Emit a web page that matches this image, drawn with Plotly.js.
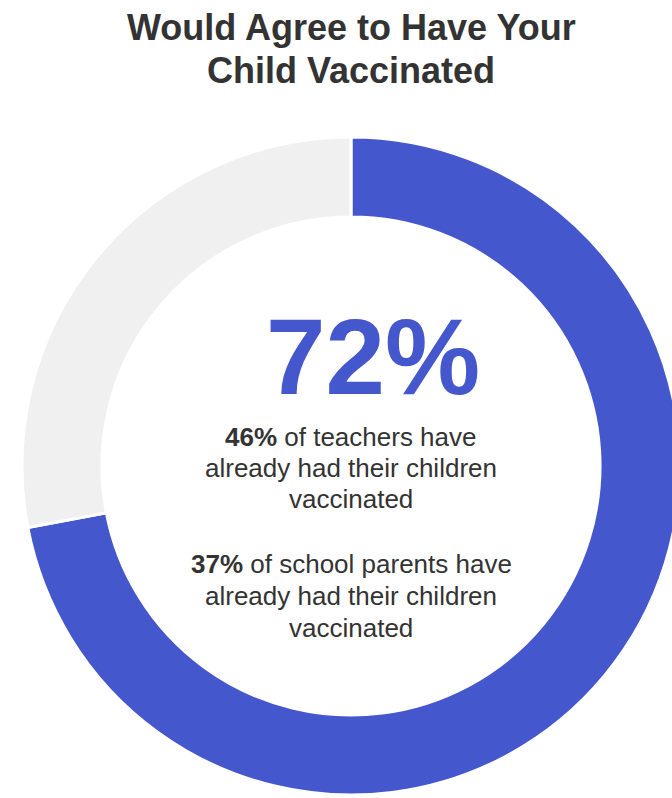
<!DOCTYPE html>
<html>
<head>
<meta charset="utf-8">
<script src="https://cdn.plot.ly/plotly-3.0.1.min.js"></script>
<style>
html,body{margin:0;padding:0;overflow:hidden;background:#fff;}
#chart{width:690px;height:798px;}
</style>
</head>
<body>
<div id="chart"></div>
<script>
const categories = ["Would agree", "Would not agree"];
const values = [72, 28];
const sliceColors = ["#4557CC", "#F0F0F0"];
const titleLines = ["Would Agree to Have Your", "Child Vaccinated"];
const bigNumber = "72%";
const noteLines = [
  "<b>46%</b> of teachers have", "already had their children", "vaccinated",
  "<b>37%</b> of school parents have", "already had their children", "vaccinated"
];

const W = 690, H = 798, ML = 21, MR = 9, MT = 137, MB = 3;
const pw = W - ML - MR, ph = H - MT - MB;
function px(x){ return (x - ML) / pw; }
function py(y){ return (H - MB - y) / ph; }

const data = [{
  type: "pie",
  labels: categories,
  values: values,
  hole: 0.757,
  sort: false,
  direction: "clockwise",
  rotation: 0,
  textinfo: "none",
  hoverinfo: "none",
  marker: {colors: sliceColors, line: {color: "#FFFFFF", width: 3}},
  showlegend: false
}];

const font = "Liberation Sans, Arial, sans-serif";
const annotations = [];
const titleY = [27, 71];
titleLines.forEach((t, i) => annotations.push({
  text: "<b>" + t + "</b>", x: px(351), y: py(titleY[i]), xref: "paper", yref: "paper",
  xanchor: "center", yanchor: "middle", showarrow: false,
  font: {family: font, size: 36, color: "#333333"}
}));
annotations.push({
  text: "<b>" + bigNumber + "</b>", x: px(373), y: py(357), xref: "paper", yref: "paper",
  xanchor: "center", yanchor: "middle", showarrow: false,
  font: {family: font, size: 107, color: "#4557CC"}
});
const noteY = [437, 468, 499, 564, 596, 628];
noteLines.forEach((t, i) => annotations.push({
  text: t, x: px(351), y: py(noteY[i]), xref: "paper", yref: "paper",
  xanchor: "center", yanchor: "middle", showarrow: false,
  font: {family: font, size: 26, color: "#333333"}
}));

const layout = {
  width: W, height: H,
  margin: {l: ML, r: MR, t: MT, b: MB},
  paper_bgcolor: "#FFFFFF",
  showlegend: false,
  annotations: annotations
};

Plotly.newPlot("chart", data, layout, {displayModeBar: false, staticPlot: true});
</script>
</body>
</html>
